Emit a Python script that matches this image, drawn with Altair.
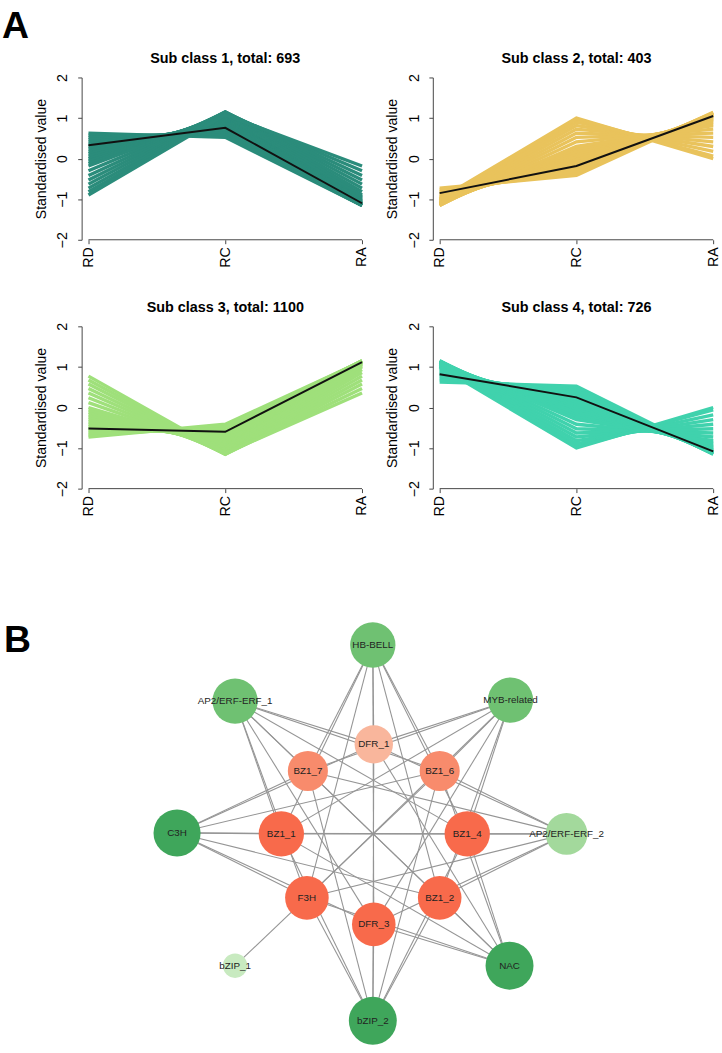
import altair as alt
import numpy as np
import pandas as pd

FONT = "Liberation Sans"

# ---------------- Panel A: standardised expression profiles ----------------
stages = ["RD", "RC", "RA"]
class_titles = ["Sub class 1, total: 693", "Sub class 2, total: 403",
                "Sub class 3, total: 1100", "Sub class 4, total: 726"]
class_colors = ["#2b8c7b", "#e9c35c", "#9fe07b", "#40d2ad"]

# representative member profiles of each sub class (RD, RC, RA)
c1_rd = [0.629, 0.577, 0.524, 0.470, 0.414, 0.357, 0.299, 0.240, 0.181, 0.121, 0.060, 0.000,
         -0.060, -0.121, -0.181, -0.299, -0.414, -0.524, -0.629, -0.727, -0.817, -0.897]
c1_rc = [0.524, 0.577, 0.629, 0.679, 0.727, 0.773, 0.817, 0.858, 0.897, 0.934, 0.968, 1.000,
         1.029, 1.055, 1.078, 1.115, 1.140, 1.153, 1.153, 1.140, 1.115, 1.078]
c1_ra = [-1.153, -1.155, -1.153, -1.148, -1.140, -1.129, -1.115, -1.098, -1.078, -1.055, -1.029, -1.000,
         -0.968, -0.934, -0.897, -0.817, -0.727, -0.629, -0.524, -0.414, -0.299, -0.181]

c2_rd = [-0.727, -0.773, -0.817, -0.858, -0.897, -0.934, -0.968, -1.000, -1.029, -1.055, -1.078,
         -1.098, -1.115, -1.140, -1.153, -1.153, -1.140, -1.115, -1.078, -1.029, -1.000]
c2_rc = [-0.414, -0.357, -0.299, -0.240, -0.181, -0.121, -0.060, 0.000, 0.060, 0.121, 0.181,
         0.240, 0.299, 0.414, 0.524, 0.629, 0.727, 0.817, 0.897, 0.968, 1.000]
c2_ra = [1.140, 1.129, 1.115, 1.098, 1.078, 1.055, 1.029, 1.000, 0.968, 0.934, 0.897,
         0.858, 0.817, 0.727, 0.629, 0.524, 0.414, 0.299, 0.181, 0.060, 0.000]

c3_rd = [-0.727, -0.679, -0.629, -0.577, -0.524, -0.470, -0.414, -0.357, -0.299, -0.240, -0.181,
         -0.121, -0.060, 0.000, 0.121, 0.240, 0.357, 0.470, 0.577, 0.679, 0.773]
c3_rc = [-0.414, -0.470, -0.524, -0.577, -0.629, -0.679, -0.727, -0.773, -0.817, -0.858, -0.897,
         -0.934, -0.968, -1.000, -1.055, -1.098, -1.129, -1.148, -1.155, -1.148, -1.129]
c3_ra = [1.140, 1.148, 1.153, 1.155, 1.153, 1.148, 1.140, 1.129, 1.115, 1.098, 1.078,
         1.055, 1.029, 1.000, 0.934, 0.858, 0.773, 0.679, 0.577, 0.470, 0.357]

c4_rd = [0.629, 0.679, 0.727, 0.773, 0.817, 0.858, 0.897, 0.934, 0.968, 1.000, 1.029, 1.055,
         1.078, 1.098, 1.115, 1.140, 1.153, 1.153, 1.140, 1.115, 1.078, 1.029, 1.000]
c4_rc = [0.524, 0.470, 0.414, 0.357, 0.299, 0.240, 0.181, 0.121, 0.060, 0.000, -0.060, -0.121,
         -0.181, -0.240, -0.299, -0.414, -0.524, -0.629, -0.727, -0.817, -0.897, -0.968, -1.000]
c4_ra = [-1.153, -1.148, -1.140, -1.129, -1.115, -1.098, -1.078, -1.055, -1.029, -1.000, -0.968, -0.934,
         -0.897, -0.858, -0.817, -0.727, -0.629, -0.524, -0.414, -0.299, -0.181, -0.060, 0.000]

# cluster centroids (black lines)
mean_c1 = [0.33, 0.76, -1.10]
mean_c2 = [-0.85, -0.18, 1.05]
mean_c3 = [-0.52, -0.60, 1.12]
mean_c4 = [0.82, 0.25, -1.08]

members = [(c1_rd, c1_rc, c1_ra), (c2_rd, c2_rc, c2_ra), (c3_rd, c3_rc, c3_ra), (c4_rd, c4_rc, c4_ra)]
means = [mean_c1, mean_c2, mean_c3, mean_c4]
y_floor = -2


def profile_table(cols):
    rows = []
    for line_id, vals in enumerate(zip(*cols)):
        for k, (stage, v) in enumerate(zip(stages, vals)):
            rows.append({"line": line_id, "stage": stage, "order": k, "value": v})
    return pd.DataFrame(rows)


def panel(i):
    members_df = profile_table(members[i])
    mean_df = pd.DataFrame({"stage": stages, "order": [0, 1, 2], "value": means[i]})
    base_df = pd.DataFrame({"stage": [stages[0]], "stage_end": [stages[-1]], "value": [y_floor]})
    x = alt.X("stage:N", title=None,
              scale=alt.Scale(type="point", domain=stages, padding=0.05),
              axis=alt.Axis(labelAngle=270, labelAlign="right", labelBaseline="middle",
                            labelPadding=3, tickSize=4, labelFontSize=14.5, domain=False))
    y = alt.Y("value:Q", title="Standardised value",
              scale=alt.Scale(domain=[-2, 2], nice=False, zero=False),
              axis=alt.Axis(values=[-2, -1, 0, 1, 2], labelAngle=270, labelAlign="center",
                            labelBaseline="bottom", labelPadding=8, tickSize=4,
                            labelFontSize=14.5, titleFontSize=14.3, titlePadding=7,
                            titleFontWeight="normal"))
    lines = alt.Chart(members_df).mark_line(strokeWidth=3.4, color=class_colors[i]).encode(
        x=x, y=y, detail="line:N", order="order:Q")
    centroid = alt.Chart(mean_df).mark_line(strokeWidth=2, color="#111111").encode(
        x=x, y=y, order="order:Q")
    # x axis line running from the first to the last stage only
    baseline = alt.Chart(base_df).mark_rule(color="#444444", strokeWidth=1).encode(
        x=x, x2="stage_end:N", y=y)
    return alt.layer(lines, centroid, baseline).properties(
        width=292, height=165,
        title=alt.TitleParams(class_titles[i], fontSize=14.6, fontWeight="bold",
                              anchor="middle", frame="group", offset=8))


grid = alt.vconcat(
    alt.hconcat(panel(0), panel(1), spacing=17),
    alt.hconcat(panel(2), panel(3), spacing=17),
    spacing=33,
    title=alt.TitleParams("A", fontSize=38, fontWeight="bold", anchor="start", offset=5, dx=-33),
)

# ---------------- Panel B: co-expression network ----------------
node_names = ["HB-BELL", "MYB-related", "AP2/ERF-ERF_2", "NAC", "bZIP_2", "bZIP_1", "C3H", "AP2/ERF-ERF_1",
              "DFR_1", "BZ1_6", "BZ1_4", "BZ1_2", "DFR_3", "F3H", "BZ1_1", "BZ1_7"]
node_x = [0, 140, 197, 139, 0, -140, -199, -140,
          1, 68, 96, 68, 1, -67, -93, -66]
node_y = [192, 136, 0, -134, -190, -134, 1, 135,
          91, 64, 0, -65, -92, -65, 0, 64]
node_diameter = [52, 52, 48, 55, 55, 28, 54, 52,
                 44, 46, 52, 50, 50, 50, 52, 46]
node_colors = ["#6fc172", "#6fc172", "#a3d99c", "#3fa65b", "#3fa65b", "#c8eac0", "#3fa65b", "#6fc172",
               "#f9b69c", "#f88b6c", "#f86a4b", "#f86a4b", "#f86a4b", "#f86a4b", "#f86a4b", "#f88b6c"]

regulators = ["HB-BELL", "MYB-related", "AP2/ERF-ERF_2", "NAC", "bZIP_2", "C3H", "AP2/ERF-ERF_1"]
targets = ["DFR_1", "BZ1_6", "BZ1_4", "BZ1_2", "DFR_3", "F3H", "BZ1_1", "BZ1_7"]
extra_edges = [("bZIP_1", "BZ1_6")]

nodes = pd.DataFrame({"name": node_names, "x": node_x, "y": node_y,
                      "diameter": node_diameter, "color": node_colors})
nodes["area"] = np.pi * (nodes["diameter"] / 2.0) ** 2

edge_pairs = [(r, t) for r in regulators for t in targets] + extra_edges
edges = pd.DataFrame(edge_pairs, columns=["source", "target"])
pos = nodes.set_index("name")
edges["x"] = edges["source"].map(pos["x"])
edges["y"] = edges["source"].map(pos["y"])
edges["x2"] = edges["target"].map(pos["x"])
edges["y2"] = edges["target"].map(pos["y"])

nx_ = alt.X("x:Q", scale=alt.Scale(domain=[-296, 331], nice=False, zero=False), axis=None)
ny_ = alt.Y("y:Q", scale=alt.Scale(domain=[-215, 255], nice=False, zero=False), axis=None)

edge_layer = alt.Chart(edges).mark_rule(color="#959595", strokeWidth=1.1).encode(
    x=nx_, y=ny_, x2="x2:Q", y2="y2:Q")
node_layer = alt.Chart(nodes).mark_circle(opacity=1).encode(
    x=nx_, y=ny_,
    size=alt.Size("area:Q", scale=None, legend=None),
    color=alt.Color("color:N", scale=None, legend=None))
label_layer = alt.Chart(nodes).mark_text(font=FONT, fontSize=10, color="#222222").encode(
    x=nx_, y=ny_, text="name:N")

network = alt.layer(edge_layer, node_layer, label_layer).properties(
    width=627, height=470,
    title=alt.TitleParams("B", fontSize=38, fontWeight="bold", anchor="start", frame="group",
                          offset=-78, dx=-79))

chart = alt.vconcat(grid, network, spacing=68).properties(
    padding={"left": 2, "top": 0, "right": 2, "bottom": 0}
).configure_view(stroke=None).configure_axis(
    labelFont=FONT, titleFont=FONT, labelColor="#000000", titleColor="#000000",
    domainColor="#444444", tickColor="#444444", grid=False, domainWidth=1, tickWidth=1
).configure_title(font=FONT, color="#000000")

chart.save("out.html", embed_options={"renderer": "svg", "actions": False})
